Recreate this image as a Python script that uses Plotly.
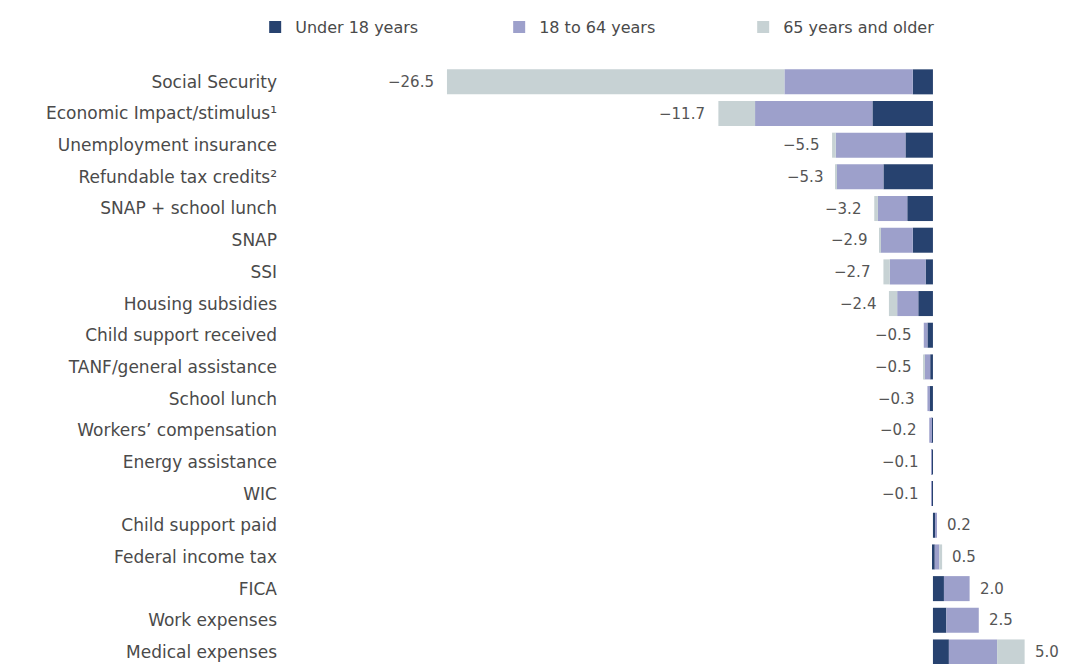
import plotly.graph_objects as go

categories = [
    "Social Security", "Economic Impact/stimulus¹", "Unemployment insurance",
    "Refundable tax credits²", "SNAP + school lunch", "SNAP", "SSI",
    "Housing subsidies", "Child support received", "TANF/general assistance",
    "School lunch", "Workers’ compensation", "Energy assistance", "WIC",
    "Child support paid", "Federal income tax", "FICA", "Work expenses",
    "Medical expenses",
]
totals = [-26.5, -11.7, -5.5, -5.3, -3.2, -2.9, -2.7, -2.4, -0.5, -0.5,
          -0.3, -0.2, -0.1, -0.1, 0.2, 0.5, 2.0, 2.5, 5.0]
under18 = [-1.1, -3.3, -1.5, -2.7, -1.4, -1.1, -0.4, -0.8, -0.3, -0.15,
           -0.2, -0.1, -0.06, -0.06, 0.12, 0.1, 0.6, 0.73, 0.87]
age18to64 = [-7.0, -6.4, -3.8, -2.55, -1.6, -1.75, -1.95, -1.15, -0.2, -0.3,
             -0.1, -0.1, -0.04, -0.04, 0.08, 0.25, 1.4, 1.77, 2.63]
age65plus = [-18.4, -2.0, -0.2, -0.05, -0.2, -0.05, -0.35, -0.45, 0.0, -0.05,
             0.0, 0.0, 0.0, 0.0, 0.0, 0.15, 0.0, 0.0, 1.5]
series_names = ["Under 18 years", "18 to 64 years", "65 years and older"]
colors = ["#27426f", "#9da0cb", "#c7d2d4"]

fig = go.Figure()
for name, vals, col in zip(series_names, [under18, age18to64, age65plus], colors):
    fig.add_trace(go.Bar(
        y=categories, x=vals, orientation="h", name=name,
        marker=dict(color=col, line=dict(width=0)),
        hoverinfo="x+y+name",
    ))

for cat, tot in zip(categories, totals):
    label = f"{tot:.1f}".replace("-", "−")
    fig.add_annotation(
        x=tot, y=cat, xref="x", yref="y", text=label, showarrow=False,
        xanchor="right" if tot < 0 else "left",
        xshift=-11 if tot < 0 else 8,
        font=dict(family="DejaVu Sans", size=15, color="#555555"),
    )

fig.update_layout(
    width=1059, height=656,
    barmode="relative", bargap=0.21,
    paper_bgcolor="white", plot_bgcolor="white",
    margin=dict(l=282, r=20, t=58, b=0, autoexpand=False),
    font=dict(family="DejaVu Sans", size=16, color="#4a4a4a"),
    legend=dict(
        orientation="h", x=-0.046, xanchor="left", y=1.065, yanchor="middle",
        entrywidth=199, entrywidthmode="pixels",
        font=dict(family="DejaVu Sans", size=16, color="#4a4a4a"),
        traceorder="normal",
    ),
    showlegend=True,
)
fig.update_xaxes(range=[-35.06, 6.22], visible=False, showgrid=False, zeroline=False)
fig.update_yaxes(
    range=[18.38, -0.5], showgrid=False, zeroline=False, showline=False,
    ticks="", ticklabelstandoff=12, automargin=False,
    tickfont=dict(family="DejaVu Sans", size=17, color="#4a4a4a"),
)

fig.write_html("out.html", post_script="document.body.style.overflow='hidden';")
